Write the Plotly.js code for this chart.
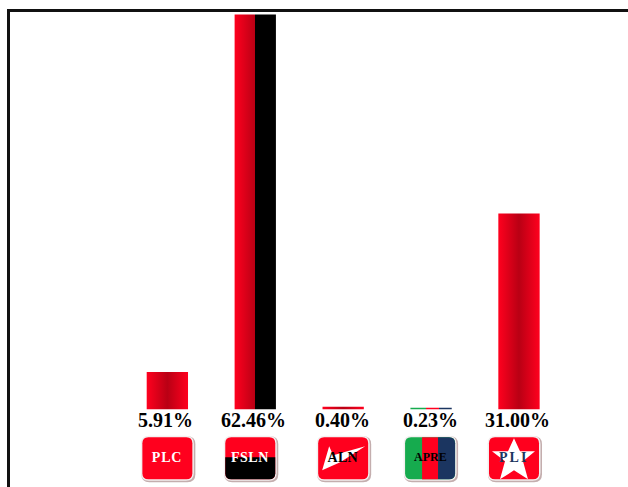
<!DOCTYPE html>
<html>
<head>
<meta charset="utf-8">
<script src="https://cdn.plot.ly/plotly-3.0.1.min.js"></script>
<style>html,body{margin:0;padding:0;background:#fff;overflow:hidden}</style>
</head>
<body>
<div id="chart" style="width:628px;height:487px"></div>
<script>
const parties = ['PLC', 'FSLN', 'ALN', 'APRE', 'PLI'];
const shares = [5.91, 62.46, 0.40, 0.23, 31.00];
const shareLabels = ['5.91%', '62.46%', '0.40%', '0.23%', '31.00%'];

const RED = '#ff001e', DARK = '#b90014', BLACK = '#000000';
const GREEN = '#16ab4e', NAVY = '#1b3560', WHITE = '#ffffff';
const redFade = [[0, RED], [0.5, DARK], [1, RED]];
const barStops = [
  redFade,
  [[0, RED], [0.5, DARK], [0.5, BLACK], [1, BLACK]],
  redFade,
  [[0, GREEN], [0.37, GREEN], [0.37, RED], [0.68, RED], [0.68, NAVY], [1, NAVY]],
  redFade
];
const labelColors = [WHITE, WHITE, BLACK, BLACK, NAVY];
const iconNudge = [0, -5, 0, -1, -5];
const labelNudge = [-1.5, -1.5, -1, -1, -1.5];
const iconTextSize = [14, 14, 14, 12, 14];
const iconTextSpacing = [0.8, 0.5, 0.3, 0, 2];

// Icon box in pixels, relative to the category centre and the zero line (negative y is below it).
const L = -25, R = 25, TOP = -28, BOT = -70, C = 6;
function rr(x0, x1, y0, y1, r) {
  return `M${x0 + r},${y1} L${x1 - r},${y1} Q${x1},${y1} ${x1},${y1 - r} L${x1},${y0 + r} Q${x1},${y0} ${x1 - r},${y0} L${x0 + r},${y0} Q${x0},${y0} ${x0},${y0 + r} L${x0},${y1 - r} Q${x0},${y1} ${x0 + r},${y1} Z`;
}
function poly(points, dx) {
  return 'M' + points.map(p => `${p[0] + dx},${p[1]}`).join(' L') + ' Z';
}
function shp(i, path, fill) {
  return {type: 'path', layer: 'above', xref: 'x', yref: 'y', xsizemode: 'pixel', ysizemode: 'pixel',
          xanchor: i, yanchor: 0, path: path, fillcolor: fill, line: {width: 0}};
}
const shapes = [];
parties.forEach((p, i) => {
  const d = iconNudge[i];
  shapes.push(shp(i, rr(L - 1 + d, R + 3 + d, BOT - 3, TOP + 1, 8), '#c4aeae'));
  shapes.push(shp(i, rr(L - 1.5 + d, R + 1.5 + d, BOT - 1.5, TOP + 1.5, 8), '#f4f0f0'));
  shapes.push(shp(i, rr(L + d, R + d, BOT, TOP, C), i === 3 ? GREEN : RED));
});
// FSLN lower half
{
  const d = iconNudge[1], M = -48;
  shapes.push(shp(1, `M${L + d},${M} L${R + d},${M} L${R + d},${BOT + C} Q${R + d},${BOT} ${R + d - C},${BOT} L${L + d + C},${BOT} Q${L + d},${BOT} ${L + d},${BOT + C} Z`, BLACK));
}
// ALN white swoosh
shapes.push(shp(2, poly([[-21, -61], [-14, -37], [-10, -46], [22, -37], [-3, -53]], iconNudge[2]), WHITE));
// APRE stripes
{
  const d = iconNudge[3];
  shapes.push(shp(3, poly([[-8, TOP], [8, TOP], [8, BOT], [-8, BOT]], d), RED));
  shapes.push(shp(3, `M${8 + d},${TOP} L${R + d - C},${TOP} Q${R + d},${TOP} ${R + d},${TOP - C} L${R + d},${BOT + C} Q${R + d},${BOT} ${R + d - C},${BOT} L${8 + d},${BOT} Z`, NAVY));
}
// PLI star
shapes.push(shp(4, poly([[0, -29], [6, -42], [21, -42], [9, -52], [14, -70], [0, -61], [-14, -70], [-9, -52], [-22, -42], [-6, -42]], iconNudge[4]), WHITE));

const annotations = [];
parties.forEach((p, i) => {
  annotations.push({x: i, y: 0, xref: 'x', yref: 'y', yshift: -11, xshift: labelNudge[i],
    text: '<b>' + shareLabels[i] + '</b>', showarrow: false,
    font: {family: 'Liberation Serif', size: 20, color: '#000'}, xanchor: 'center', yanchor: 'middle'});
  annotations.push({x: i, y: 0, xref: 'x', yref: 'y', yshift: -48, xshift: iconNudge[i], text: '<b>' + p + '</b>', showarrow: false,
    font: {family: 'Liberation Serif', size: iconTextSize[i], color: labelColors[i]}, xanchor: 'center', yanchor: 'middle'});
});

const data = [{type: 'bar', x: parties, y: shares, width: 0.47,
  marker: {color: barStops.map(s => s[0][1]), line: {width: 0}}, hoverinfo: 'none'}];

const layout = {
  width: 628, height: 487, showlegend: false,
  paper_bgcolor: '#fff', plot_bgcolor: '#fff',
  margin: {l: 9.5, r: 0, t: 12, b: 0, pad: 0},
  xaxis: {type: 'category', categoryarray: parties, range: [-1.79, 5.24], side: 'top', showline: true,
          linewidth: 3, linecolor: '#111', showgrid: false, zeroline: false, showticklabels: false, ticks: ''},
  yaxis: {range: [-12.29, 62.86], showline: true, linewidth: 3, linecolor: '#111', showgrid: false,
          zeroline: false, showticklabels: false, ticks: ''},
  shapes: shapes, annotations: annotations
};

function paintGradients(gd) {
  const svg = gd.querySelector('svg.main-svg');
  const NS = 'http://www.w3.org/2000/svg';
  const defs = document.createElementNS(NS, 'defs');
  svg.insertBefore(defs, svg.firstChild);
  barStops.forEach((stops, i) => {
    const g = document.createElementNS(NS, 'linearGradient');
    g.id = 'barGrad' + i;
    stops.forEach(st => {
      const s = document.createElementNS(NS, 'stop');
      s.setAttribute('offset', st[0]);
      s.setAttribute('stop-color', st[1]);
      g.appendChild(s);
    });
    defs.appendChild(g);
  });
  gd.querySelectorAll('.barlayer .point path').forEach((p, i) => {
    p.style.setProperty('fill', `url(#barGrad${i})`);
  });
  gd.querySelectorAll('.annotation-text').forEach(t => {
    const i = parties.indexOf(t.textContent);
    if (i >= 0) t.style.letterSpacing = iconTextSpacing[i] + 'px';
  });
  return gd;
}

Plotly.newPlot('chart', data, layout, {staticPlot: true, displayModeBar: false}).then(paintGradients);
</script>
</body>
</html>
